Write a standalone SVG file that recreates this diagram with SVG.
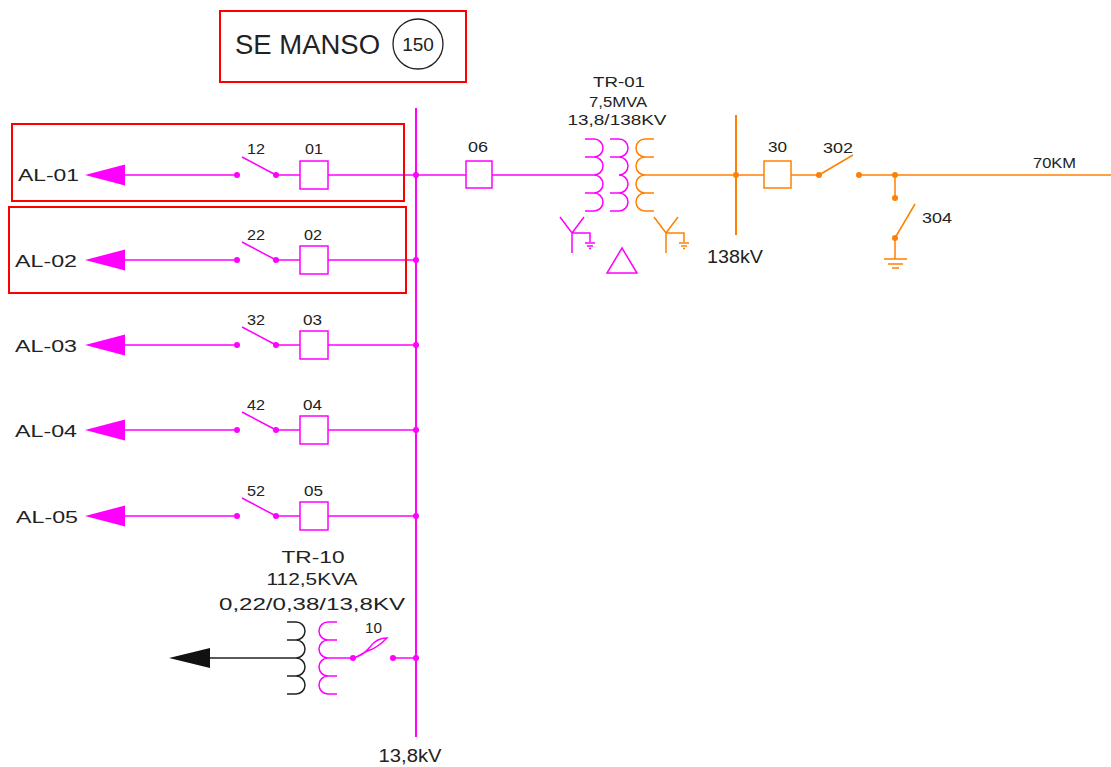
<svg xmlns="http://www.w3.org/2000/svg" width="1111" height="767" viewBox="0 0 1111 767">
<style>
text{font-family:"Liberation Sans",Arial,sans-serif;fill:#222}
.m{stroke:#ff00ff;fill:none;stroke-width:1.5}
.mf{fill:#ff00ff;stroke:none}
.o{stroke:#ff8000;fill:none;stroke-width:1.5}
.of{fill:#ff8000;stroke:none}
.k{stroke:#222;fill:none;stroke-width:1.5}
.red{stroke:#ff0000;fill:none;stroke-width:2}
.lbl{font-size:17px}
.num{font-size:15px}
.sm{font-size:14px}
</style>
<defs>
<g id="feeder">
<polygon class="mf" points="85,0 125,-10.5 125,10.5"/>
<line class="m" x1="125" y1="0" x2="237" y2="0"/>
<circle class="mf" cx="237" cy="0" r="3"/>
<line class="m" x1="242" y1="-18" x2="276" y2="0"/>
<circle class="mf" cx="276" cy="0" r="3"/>
<line class="m" x1="276" y1="0" x2="300" y2="0"/>
<rect class="m" x="300" y="-14" width="28" height="28"/>
<line class="m" x1="328" y1="0" x2="416" y2="0"/>
<circle class="mf" cx="416" cy="0" r="3"/>
</g>
<path id="coilR" d="M-9,-36 H0 A9,9 0 0 1 0,-18 A9,9 0 0 1 0,0 A9,9 0 0 1 0,18 A9,9 0 0 1 0,36 H-9 M0,-18 H-9 M0,18 H-9"/>
<path id="coilL" d="M9,-36 H0 A9,9 0 0 0 0,-18 A9,9 0 0 0 0,0 A9,9 0 0 0 0,18 A9,9 0 0 0 0,36 H9 M0,-18 H9 M0,18 H9"/>
<path id="wye" d="M-12,0 L0,16 L12,0 M0,16 V36 M0,16 H18 V25 M13,26 H23 M15,29 H21 M17,31.5 H19"/>
</defs>

<g id="title">
<rect class="red" x="220" y="11" width="246" height="71"/>
<text x="235" y="54" font-size="27" textLength="145" lengthAdjust="spacingAndGlyphs">SE MANSO</text>
<circle cx="418" cy="44" r="25" fill="none" stroke="#222" stroke-width="1.3"/>
<text x="418" y="51" font-size="19" text-anchor="middle">150</text>
</g>

<g id="bus-13-8kV">
<line x1="416" y1="108" x2="416" y2="737" stroke="#ff00ff" stroke-width="2"/>
<text x="410" y="762" font-size="18" text-anchor="middle" textLength="63" lengthAdjust="spacingAndGlyphs">13,8kV</text>
</g>

<g id="AL-01">
<use href="#feeder" y="175"/>
<text class="lbl" x="18" y="181" textLength="61" lengthAdjust="spacingAndGlyphs">AL-01</text>
<text class="num" x="247" y="154" textLength="18" lengthAdjust="spacingAndGlyphs">12</text>
<text class="num" x="305" y="154" textLength="18" lengthAdjust="spacingAndGlyphs">01</text>
<rect class="red" x="12" y="124" width="392" height="77"/>
</g>
<g id="AL-02">
<use href="#feeder" y="260"/>
<text class="lbl" x="15" y="267" textLength="62" lengthAdjust="spacingAndGlyphs">AL-02</text>
<text class="num" x="247" y="240" textLength="18" lengthAdjust="spacingAndGlyphs">22</text>
<text class="num" x="304" y="240" textLength="18" lengthAdjust="spacingAndGlyphs">02</text>
<rect class="red" x="9" y="207" width="397" height="86"/>
</g>
<g id="AL-03">
<use href="#feeder" y="345"/>
<text class="lbl" x="15" y="352" textLength="62" lengthAdjust="spacingAndGlyphs">AL-03</text>
<text class="num" x="247" y="325" textLength="18" lengthAdjust="spacingAndGlyphs">32</text>
<text class="num" x="303" y="325" textLength="19" lengthAdjust="spacingAndGlyphs">03</text>
</g>
<g id="AL-04">
<use href="#feeder" y="430"/>
<text class="lbl" x="15" y="437" textLength="62" lengthAdjust="spacingAndGlyphs">AL-04</text>
<text class="num" x="247" y="410" textLength="18" lengthAdjust="spacingAndGlyphs">42</text>
<text class="num" x="303" y="410" textLength="19" lengthAdjust="spacingAndGlyphs">04</text>
</g>
<g id="AL-05">
<use href="#feeder" y="516"/>
<text class="lbl" x="16" y="523" textLength="62" lengthAdjust="spacingAndGlyphs">AL-05</text>
<text class="num" x="247" y="496" textLength="18" lengthAdjust="spacingAndGlyphs">52</text>
<text class="num" x="304" y="496" textLength="19" lengthAdjust="spacingAndGlyphs">05</text>
</g>

<g id="breaker-06">
<line class="m" x1="416" y1="175" x2="466" y2="175"/>
<rect class="m" x="466" y="161" width="26" height="27"/>
<line class="m" x1="492" y1="175" x2="594" y2="175"/>
<text class="sm" x="468" y="152" textLength="20" lengthAdjust="spacingAndGlyphs">06</text>
</g>

<g id="TR-01">
<text class="sm" x="619" y="87" text-anchor="middle" textLength="52" lengthAdjust="spacingAndGlyphs">TR-01</text>
<text class="sm" x="618" y="107" text-anchor="middle" textLength="58" lengthAdjust="spacingAndGlyphs">7,5MVA</text>
<text class="sm" x="617" y="125" text-anchor="middle" textLength="99" lengthAdjust="spacingAndGlyphs">13,8/138KV</text>
<use href="#coilR" class="m" x="594" y="175"/>
<use href="#coilR" class="m" x="619" y="175"/>
<use href="#coilL" class="o" x="645" y="175"/>
<use href="#wye" class="m" x="572" y="217"/>
<use href="#wye" class="o" x="666" y="217"/>
<polygon class="m" points="622,248 607,273 637,273"/>
</g>

<g id="bus-138kV">
<line class="o" x1="645" y1="175" x2="764" y2="175"/>
<line x1="736" y1="115" x2="736" y2="235" stroke="#ff8000" stroke-width="2"/>
<circle class="of" cx="736" cy="175" r="3"/>
<text x="735" y="263" font-size="18" text-anchor="middle" textLength="56" lengthAdjust="spacingAndGlyphs">138kV</text>
</g>

<g id="breaker-30">
<rect class="o" x="764" y="161" width="27" height="27"/>
<text class="num" x="768" y="152" textLength="19" lengthAdjust="spacingAndGlyphs">30</text>
<line class="o" x1="791" y1="175" x2="819" y2="175"/>
</g>

<g id="switch-302">
<circle class="of" cx="819" cy="175" r="3"/>
<line class="o" x1="819" y1="175" x2="853" y2="155"/>
<circle class="of" cx="859" cy="175" r="3"/>
<text class="num" x="823" y="153" textLength="30" lengthAdjust="spacingAndGlyphs">302</text>
</g>

<g id="line-70KM">
<line class="o" x1="859" y1="175" x2="1111" y2="175"/>
<circle class="of" cx="895" cy="175" r="3"/>
<text class="num" x="1033" y="168" textLength="43" lengthAdjust="spacingAndGlyphs">70KM</text>
</g>

<g id="switch-304">
<line class="o" x1="895" y1="175" x2="895" y2="198"/>
<circle class="of" cx="895" cy="198" r="3"/>
<line class="o" x1="895" y1="238" x2="915" y2="204"/>
<circle class="of" cx="895" cy="238" r="3"/>
<line class="o" x1="895" y1="238" x2="895" y2="259"/>
<path class="o" d="M884,259 H907 M888,264 H903 M892,268 H899"/>
<text class="num" x="922" y="223" textLength="30" lengthAdjust="spacingAndGlyphs">304</text>
</g>

<g id="TR-10">
<text x="313" y="563" font-size="17" text-anchor="middle" textLength="63" lengthAdjust="spacingAndGlyphs">TR-10</text>
<text x="312" y="585" font-size="17" text-anchor="middle" textLength="91" lengthAdjust="spacingAndGlyphs">112,5KVA</text>
<text x="312" y="610" font-size="17" text-anchor="middle" textLength="186" lengthAdjust="spacingAndGlyphs">0,22/0,38/13,8KV</text>
<polygon fill="#111" points="169,658 210,648 210,668"/>
<line class="k" x1="210" y1="658" x2="296" y2="658"/>
<use href="#coilR" class="k" x="296" y="658"/>
<use href="#coilL" class="m" x="328" y="658"/>
<line class="m" x1="328" y1="658" x2="353" y2="658"/>
</g>

<g id="switch-10">
<circle class="mf" cx="353" cy="658" r="3"/>
<path class="m" d="M353,658 C362,656 366,652 370,647 C375,640 380,638 387,638 C382,643 376,648 370,650 C364,652 362,654 356,657"/>
<circle class="mf" cx="393" cy="658" r="3"/>
<line class="m" x1="393" y1="658" x2="416" y2="658"/>
<circle class="mf" cx="416" cy="658" r="3"/>
<text class="sm" x="365" y="633" textLength="17" lengthAdjust="spacingAndGlyphs">10</text>
</g>
</svg>
